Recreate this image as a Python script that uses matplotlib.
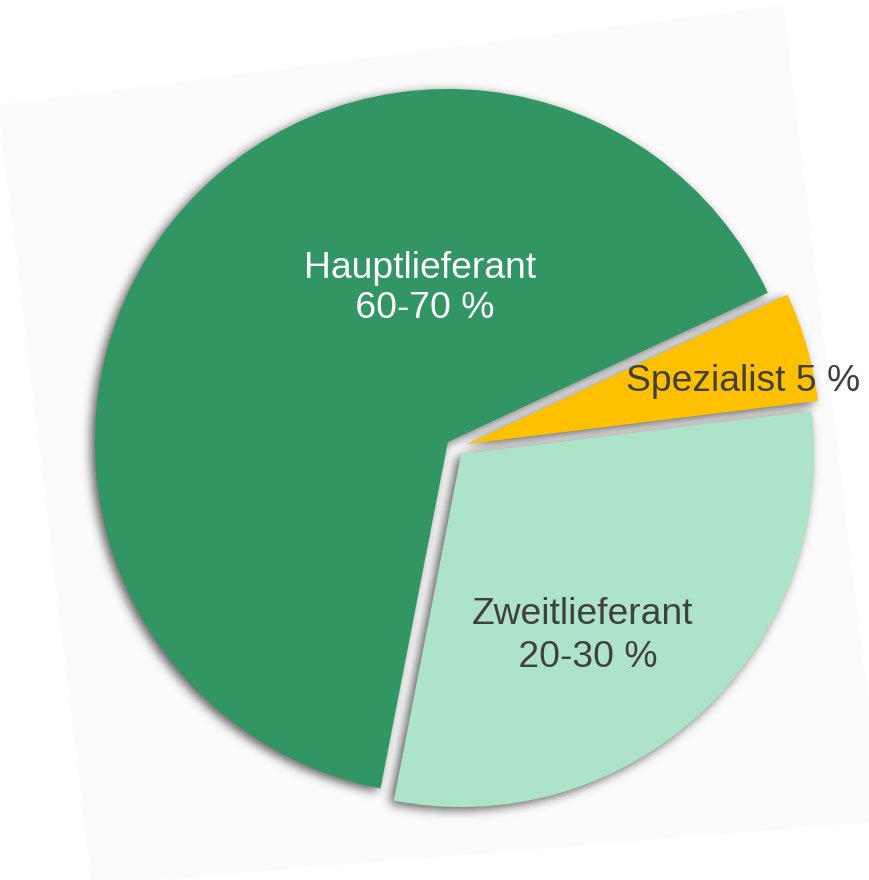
import matplotlib
matplotlib.use("Agg")
import matplotlib.pyplot as plt
import numpy as np
from matplotlib.patches import Polygon

# ---- data ----
categories = ["Hauptlieferant", "Spezialist", "Zweitlieferant"]
shares = [65, 5, 30]
label_texts = ["Hauptlieferant\n 60-70 %", "Spezialist 5 %", "Zweitlieferant\n 20-30 %"]

# ---- style ----
colors = ["#329664", "#FFC000", "#ADE3C8"]
text_colors = ["#FFFFFF", "#404040", "#404040"]
explode = [9, 13, 9]          # in pixel-sized data units
label_pos = [(420, 880 - 318), (743, 880 - 391), (583, 880 - 667)]
label_spacing = [1.2, 1.2, 1.28]

plt.rcParams['font.family'] = ['Liberation Sans', 'DejaVu Sans']

W, H = 869, 880
fig = plt.figure(figsize=(W / 100, H / 100), dpi=100)
ax = fig.add_axes([0, 0, 1, 1])

# faint tilted background sheet
bg = Polygon([(-2, H - 105), (783, H - 5), (883, H - 821), (92, H - 885)],
             closed=True, facecolor="#FBFBFB", edgecolor="none", zorder=0)
ax.add_patch(bg)

center = (455, H - 447.5)
radius = 353

wedges, _ = ax.pie(shares, explode=explode, startangle=259, counterclock=False,
                   radius=radius, center=center, colors=colors,
                   wedgeprops=dict(linewidth=0))
for w in wedges:
    w.set_zorder(2)

# ---- soft drop shadow: blurred, offset copy of the wedge shapes ----
sh_dx, sh_dy, sigma, sh_alpha = 4, 3, 5.0, 0.62
xs = np.arange(W) + 0.5 + sh_dx
ys = H - (np.arange(H) + 0.5) + sh_dy
gx, gy = np.meshgrid(xs, ys)
pts = np.column_stack([gx.ravel(), gy.ravel()])
mask = np.zeros(gx.size, dtype=float)
for w in wedges:
    path = w.get_patch_transform().transform_path(w.get_path())
    mask = np.maximum(mask, path.contains_points(pts).astype(float))
mask = mask.reshape(gx.shape)
k = np.arange(-int(4 * sigma), int(4 * sigma) + 1)
kern = np.exp(-k ** 2 / (2 * sigma ** 2))
kern /= kern.sum()
blur = np.apply_along_axis(lambda r: np.convolve(r, kern, mode="same"), 1, mask)
blur = np.apply_along_axis(lambda c: np.convolve(c, kern, mode="same"), 0, blur)
shadow = np.zeros((H, W, 4))
shadow[..., 3] = blur * sh_alpha
ax.imshow(shadow, extent=(0, W, 0, H), origin="upper", zorder=1,
          interpolation="nearest", aspect="auto")

for txt, (x, y), c, ls in zip(label_texts, label_pos, text_colors, label_spacing):
    ax.text(x, y, txt, ha="center", va="baseline", color=c, fontsize=26.8,
            linespacing=ls, multialignment="center", zorder=3)

ax.set_xlim(0, W)
ax.set_ylim(0, H)
ax.set_aspect("equal")
ax.axis("off")

fig.savefig("out.png", dpi=100, facecolor="white")
